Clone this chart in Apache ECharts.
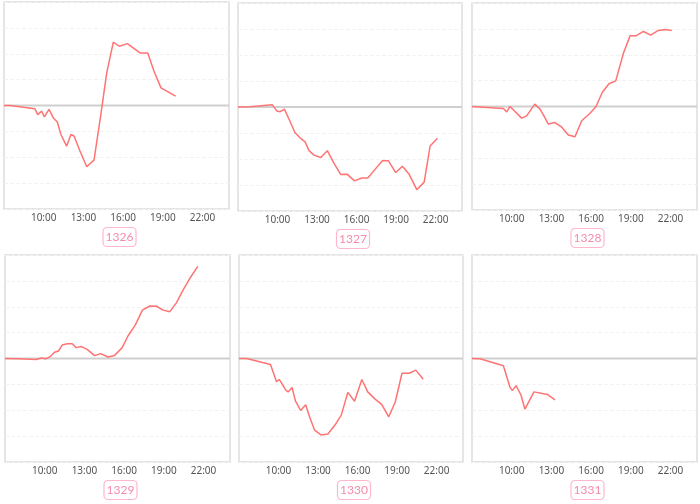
<!DOCTYPE html>
<html>
<head>
<meta charset="utf-8">
<script src="https://cdn.jsdelivr.net/npm/echarts@6/dist/echarts.min.js"></script>
<style>html,body{margin:0;padding:0;background:#fff}#c{width:700px;height:504px}</style>
</head>
<body>
<div id="c"></div>
<script>
// Panel names
const panelNames = ['1326', '1327', '1328', '1329', '1330', '1331'];
// x tick labels (hours)
const xTicks = [10, 13, 16, 19, 22];

// Panel 1326
const hours1326 = [7.0, 7.45, 9.34, 9.54, 9.85, 10.05, 10.4, 10.55, 10.73, 11.03, 11.3, 11.73, 12.06, 12.29, 12.74, 13.25, 13.8, 14.3, 14.76, 15.26, 15.71, 16.32, 17.28, 17.86, 18.33, 18.86, 19.97];
const values1326 = [0, 0, -0.13, -0.35, -0.22, -0.44, -0.15, -0.2, -0.48, -0.64, -1.12, -1.57, -1.12, -1.18, -1.76, -2.37, -2.11, -0.41, 1.26, 2.45, 2.29, 2.39, 2.03, 2.03, 1.33, 0.68, 0.36];

// Panel 1327
const hours1327 = [7.0, 7.9, 9.6, 9.94, 10.2, 10.52, 10.9, 11.33, 11.76, 12.09, 12.39, 12.77, 13.28, 13.78, 14.29, 14.8, 15.3, 15.84, 16.39, 16.85, 17.45, 17.96, 18.42, 18.97, 19.48, 19.99, 20.57, 21.13, 21.58, 22.14];
const values1327 = [0, 0.01, 0.09, -0.15, -0.18, -0.08, -0.5, -0.99, -1.21, -1.34, -1.68, -1.85, -1.94, -1.68, -2.17, -2.6, -2.59, -2.84, -2.73, -2.73, -2.37, -2.07, -2.07, -2.52, -2.28, -2.59, -3.18, -2.89, -1.5, -1.2];

// Panel 1328
const hours1328 = [7.0, 9.37, 9.62, 9.87, 10.25, 10.75, 11.13, 11.74, 12.14, 12.39, 12.77, 13.27, 13.78, 14.28, 14.78, 15.29, 15.92, 16.37, 16.85, 17.35, 17.86, 18.44, 18.94, 19.39, 19.95, 20.5, 21.08, 21.58, 22.09];
const values1328 = [0, -0.08, -0.21, 0, -0.19, -0.45, -0.36, 0.09, -0.1, -0.32, -0.68, -0.62, -0.8, -1.1, -1.17, -0.55, -0.26, 0, 0.55, 0.88, 0.99, 2.06, 2.73, 2.73, 2.9, 2.76, 2.94, 2.98, 2.94];

// Panel 1329
const hours1329 = [7.0, 8.09, 9.35, 9.73, 10.1, 10.41, 10.74, 11.04, 11.32, 11.7, 12.08, 12.38, 12.76, 13.21, 13.77, 14.22, 14.78, 15.28, 15.84, 16.29, 16.85, 17.38, 17.94, 18.44, 18.95, 19.45, 19.96, 20.46, 20.97, 21.57];
const values1329 = [0, -0.01, -0.04, 0.02, -0.01, 0.07, 0.24, 0.29, 0.52, 0.57, 0.57, 0.42, 0.46, 0.35, 0.11, 0.19, 0.06, 0.12, 0.41, 0.87, 1.3, 1.87, 2.03, 2.02, 1.87, 1.81, 2.16, 2.65, 3.1, 3.56];

// Panel 1330
const hours1330 = [7.0, 7.58, 9.39, 9.85, 10.05, 10.22, 10.55, 10.73, 11.03, 11.28, 11.68, 12.06, 12.36, 12.74, 13.25, 13.75, 14.33, 14.76, 15.26, 15.77, 16.32, 16.77, 17.33, 17.83, 18.36, 18.86, 19.37, 19.92, 20.42, 20.98];
const values1330 = [0, 0, -0.23, -0.9, -0.81, -0.94, -1.22, -1.29, -1.12, -1.64, -2.01, -1.79, -2.26, -2.77, -2.96, -2.92, -2.54, -2.19, -1.31, -1.65, -0.81, -1.29, -1.57, -1.77, -2.26, -1.68, -0.57, -0.57, -0.45, -0.8];

// Panel 1331
const hours1331 = [7.0, 7.6, 9.37, 9.87, 10.05, 10.33, 10.7, 11.0, 11.68, 12.69, 13.27];
const values1331 = [0, -0.01, -0.28, -1.11, -1.24, -1.05, -1.41, -1.96, -1.29, -1.39, -1.6];

// zero reference line span
const zeroLineHours = [7, 24];

const allHours = [hours1326, hours1327, hours1328, hours1329, hours1330, hours1331];
const allValues = [values1326, values1327, values1328, values1329, values1330, values1331];

const gridBoxes = [
  {left: 4, top: 2, width: 225, height: 207},
  {left: 238, top: 3, width: 224, height: 208},
  {left: 472, top: 3, width: 225, height: 207},
  {left: 5, top: 255, width: 225, height: 207},
  {left: 239, top: 255, width: 224, height: 207},
  {left: 472, top: 255, width: 225, height: 207}
];

const grids = [], xAxes = [], yAxes = [], series = [], titles = [];
gridBoxes.forEach((g, i) => {
  grids.push({left: g.left, top: g.top, width: g.width, height: g.height, show: true,
    borderColor: '#dddddd', borderWidth: 1.5, backgroundColor: '#fff'});
  xAxes.push({type: 'value', gridIndex: i, min: 7, max: 24, interval: 3,
    axisLine: {show: false}, axisTick: {show: false}, splitLine: {show: false},
    axisLabel: {showMinLabel: false, showMaxLabel: false, color: '#555', fontSize: 10, margin: 4,
      fontFamily: 'Noto Sans',
      formatter: v => xTicks.indexOf(v) >= 0 ? v + ':00' : ''}});
  yAxes.push({type: 'value', gridIndex: i, min: -4, max: 4, interval: 1,
    axisLine: {show: false}, axisTick: {show: false}, axisLabel: {show: false},
    splitLine: {show: true, lineStyle: {color: '#f2f2f2', type: 'dashed', width: 1}}});
  series.push({type: 'line', xAxisIndex: i, yAxisIndex: i, symbol: 'none', silent: true,
    data: zeroLineHours.map(h => [h, 0]),
    lineStyle: {color: '#cfcfcf', width: 2}, animation: false, z: 1});
  series.push({type: 'line', xAxisIndex: i, yAxisIndex: i, showSymbol: false, symbol: 'none',
    data: allHours[i].map((h, k) => [h, allValues[i][k]]),
    lineStyle: {color: '#ff7373', width: 1.5}, itemStyle: {color: '#ff7373'},
    animation: false, z: 3});
  titles.push({text: panelNames[i], left: g.left + g.width / 2, textAlign: 'center',
    top: g.top + g.height + 18, padding: [4, 3],
    borderColor: '#ffb8cb', borderWidth: 1.2, borderRadius: 4,
    textStyle: {color: '#f58cab', fontSize: 12, fontWeight: 'normal', fontFamily: 'Lato'}});
});

const chart = echarts.init(document.getElementById('c'));
chart.setOption({animation: false, title: titles, grid: grids, xAxis: xAxes, yAxis: yAxes, series: series});
</script>
</body>
</html>
